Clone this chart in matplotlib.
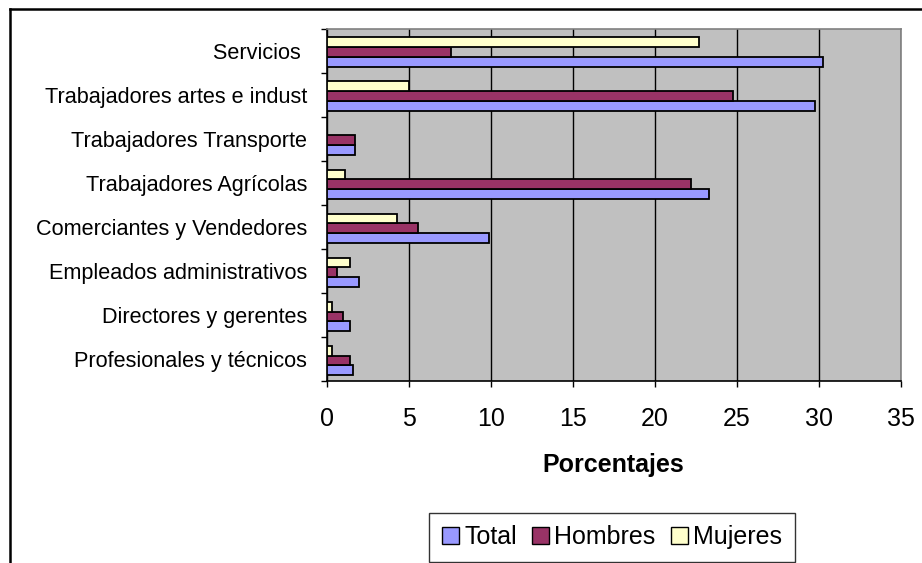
import matplotlib
matplotlib.use("Agg")
import matplotlib.pyplot as plt
from matplotlib.lines import Line2D
from matplotlib.patches import Patch
import numpy as np

plt.rcParams['font.family'] = ['Liberation Sans', 'DejaVu Sans']

categorias = ["Profesionales y técnicos", "Directores y gerentes",
              "Empleados administrativos", "Comerciantes y Vendedores",
              "Trabajadores Agrícolas", "Trabajadores Transporte",
              "Trabajadores artes e indust", "Servicios "]
total = [1.6, 1.4, 2.0, 9.9, 23.3, 1.7, 29.8, 30.3]
hombres = [1.4, 1.0, 0.6, 5.6, 22.2, 1.75, 24.8, 7.6]
mujeres = [0.3, 0.3, 1.4, 4.3, 1.1, 0.0, 5.0, 22.7]
series = ["Total", "Hombres", "Mujeres"]
colores = ["#9999FF", "#993366", "#FFFFCC"]

fig = plt.figure(figsize=(9.22, 5.63), dpi=100)
ax = fig.add_axes([0.3543, 0.3233, 0.6224, 0.6257])
ax.set_facecolor("#C0C0C0")

y = np.arange(len(categorias))
h = 0.225
offsets = [-0.26, -0.035, 0.19]
for vals, off, col in zip([total, hombres, mujeres], offsets, colores):
    v = np.array(vals)
    mask = v > 0
    ax.barh(y[mask] + off, v[mask], height=h, color=col, edgecolor="black",
            linewidth=1.3, zorder=3)

ax.set_xlim(0, 35)
ax.set_ylim(-0.5, len(categorias) - 0.5)
ax.set_xticks(np.arange(0, 36, 5))
ax.xaxis.grid(True, color="black", linewidth=1.0, zorder=1)
ax.set_axisbelow(True)

# category boundaries get tick marks, labels sit between them
ax.set_yticks(np.arange(-0.5, len(categorias), 1.0))
ax.set_yticklabels([])
ax.set_yticks(y, minor=True)
ax.set_yticklabels(categorias, minor=True, fontsize=15.6)
ax.tick_params(axis="y", which="minor", length=0, pad=14)
ax.tick_params(axis="y", which="major", length=4.5, width=1.0, direction="out")
ax.tick_params(axis="x", length=4.5, width=1.0, direction="out", labelsize=18, pad=14)

for s in ["top", "right"]:
    ax.spines[s].set_color("#808080")
    ax.spines[s].set_linewidth(1.2)
for s in ["left", "bottom"]:
    ax.spines[s].set_color("black")
    ax.spines[s].set_linewidth(1.2)

ax.set_xlabel("Porcentajes", fontsize=18, fontweight="bold", labelpad=16)

handles = [Patch(facecolor=c, edgecolor="black", linewidth=1.0) for c in colores]
leg = fig.legend(handles, series, loc="center", ncol=3,
                 bbox_to_anchor=(612 / 922, 1 - 537 / 563),
                 bbox_transform=fig.transFigure, fontsize=18,
                 frameon=True, fancybox=False, handlelength=0.7, handleheight=0.7,
                 handletextpad=0.2, columnspacing=0.6, borderpad=0.5)
leg.get_frame().set_edgecolor("black")
leg.get_frame().set_linewidth(1.0)

# outer chart border (only left and top visible in the crop)
fig.add_artist(Line2D([10 / 922, 10 / 922], [0, 1 - 9 / 563], color="black",
                      linewidth=1.8, transform=fig.transFigure))
fig.add_artist(Line2D([10 / 922, 1], [1 - 9 / 563, 1 - 9 / 563], color="black",
                      linewidth=1.8, transform=fig.transFigure))

fig.savefig("out.png", dpi=100, facecolor="white")
